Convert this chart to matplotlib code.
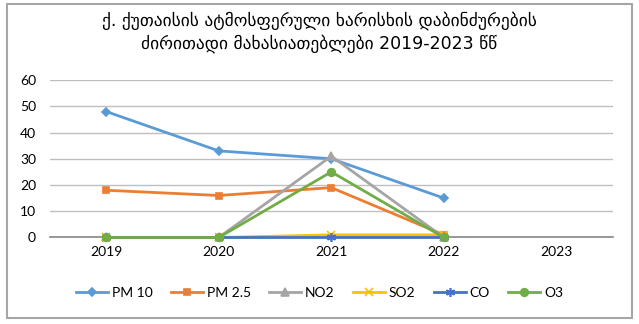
import numpy as np
import matplotlib
matplotlib.use("Agg")
import matplotlib.pyplot as plt
from matplotlib.patches import Rectangle

years = ["2019", "2020", "2021", "2022", "2023"]
pm10 = [48, 33, 30, 15, np.nan]
pm25 = [18, 16, 19, 1, np.nan]
no2 = [0, 0, 31, 0, np.nan]
so2 = [0, 0, 1, 1, np.nan]
co = [0, 0, 0, 0, np.nan]
o3 = [0, 0, 25, 0, np.nan]

series = [
    ("PM 10", pm10, "#5B9BD5", "D", 4.5),
    ("PM 2.5", pm25, "#ED7D31", "s", 5),
    ("NO2", no2, "#A5A5A5", "^", 5.5),
    ("SO2", so2, "#FFC000", "x", 5.5),
    ("CO", co, "#4472C4", (6, 2, 0), 6.5),
    ("O3", o3, "#70AD47", "o", 5.5),
]

title = "ქ. ქუთაისის ატმოსფერული ხარისხის დაბინძურების\nძირითადი მახასიათებლები 2019-2023 წწ"

fig = plt.figure(figsize=(6.39, 3.24), dpi=100)
ax = fig.add_axes([0.078, 0.267, 0.881, 0.486])

x = np.arange(len(years))
for name, vals, color, marker, ms in series:
    ax.plot(x, vals, color=color, lw=2.0, marker=marker, markersize=ms,
            markeredgewidth=1.2, label=name, clip_on=False, zorder=3)

ax.set_xlim(-0.5, len(years) - 0.5)
ax.set_ylim(0, 60)
ax.set_yticks(range(0, 61, 10))
ax.set_xticks(x)
ax.set_xticklabels(years)
ax.grid(axis="y", color="#BFBFBF", lw=1)
ax.set_axisbelow(True)
for s in ["top", "right", "left"]:
    ax.spines[s].set_visible(False)
ax.spines["bottom"].set_color("#868686")
ax.spines["bottom"].set_linewidth(1.2)
ax.tick_params(axis="both", length=0, labelsize=10, colors="#000000", pad=6)
ax.tick_params(axis="y", pad=10)
for lab in ax.get_xticklabels() + ax.get_yticklabels():
    lab.set_fontfamily("Lato")

fig.text(0.5, 0.9, title, ha="center", va="center", fontsize=12.5,
         family="DejaVu Sans", linespacing=1.3)

leg = fig.legend(loc="center", bbox_to_anchor=(0.5, 0.095), ncol=6, frameon=False,
                 prop={"family": "Lato", "size": 10}, handlelength=2.3,
                 columnspacing=1.3, handletextpad=0.3)

fig.patches.append(Rectangle((0.011, 0.018), 0.978, 0.97, transform=fig.transFigure,
                             fill=False, edgecolor="#A6A6A6", lw=1.5))

fig.savefig("out.png", dpi=100)
